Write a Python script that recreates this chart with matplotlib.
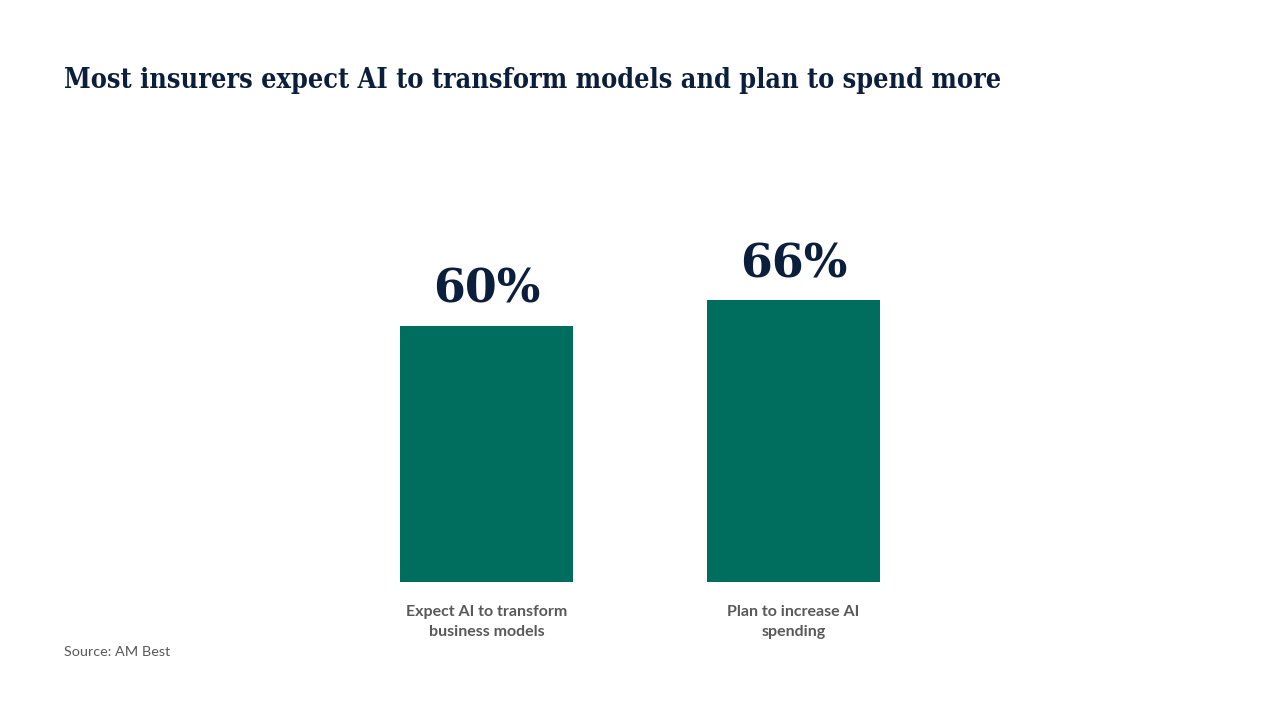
import matplotlib
matplotlib.use("Agg")
import matplotlib.pyplot as plt

title = "Most insurers expect AI to transform models and plan to spend more"
categories = ["Expect AI to transform\nbusiness models", "Plan to increase AI\nspending"]
values = [60, 66]
value_labels = ["60%", "66%"]
source = "Source: AM Best"

W, H = 1280, 720
fig = plt.figure(figsize=(W / 100, H / 100), dpi=100)
fig.patch.set_facecolor("white")

# axes: x=0 at pixel 486.5, x=1 at 793.5; baseline at y=582 px, 100 units = 426.7 px
left_px, right_px = 179.5, 1100.5
base_px, top_px = 582, 582 - 426.7
ax = fig.add_axes([left_px / W, 1 - base_px / H, (right_px - left_px) / W, (base_px - top_px) / H])
ax.set_xlim(-1, 2)
ax.set_ylim(0, 100)
ax.axis("off")

navy = "#0b1f3d"
green = "#006e5f"
grey = "#595959"

x = list(range(len(values)))
bars = ax.bar(x, values, width=173 / 307, color=green)
for xi, v, lab in zip(x, values, value_labels):
    ax.annotate(lab, (xi, v), xytext=(0, 13), textcoords="offset pixels",
                ha="center", va="bottom", fontsize=33, fontweight="bold",
                family="DejaVu Serif", color=navy)
for xi, c in zip(x, categories):
    ax.annotate(c, (xi, 0), xytext=(0, -23), textcoords="offset pixels",
                ha="center", va="top", fontsize=11.5, fontweight="bold",
                family="Lato", color=grey, linespacing=1.55)

fig.text(64 / W, 1 - 80 / H, title, ha="left", va="center", fontsize=19.4,
         fontweight="bold", fontstretch="condensed", family="DejaVu Serif", color=navy)
fig.text(64 / W, 1 - 652 / H, source, ha="left", va="center", fontsize=10.4,
         family="Lato", color=grey)

fig.savefig("out.png", dpi=100, facecolor="white")
